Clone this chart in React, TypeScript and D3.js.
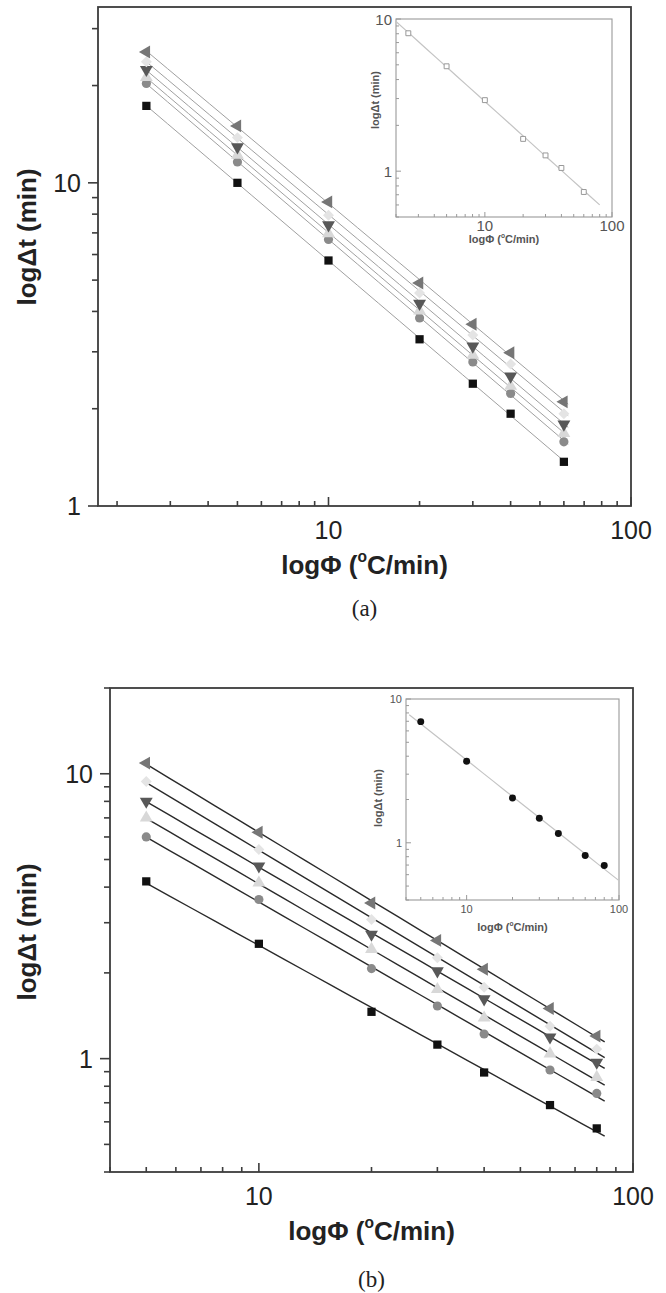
import React, { useEffect, useRef } from "react";
import * as d3 from "d3";

// heating rates (°C/min)
const rateA = [2.5, 5, 10, 20, 30, 40, 60];
const rateB = [5, 10, 20, 30, 40, 60, 80];

// panel (a) series, Δt in min
const squareA = [17.3, 10.0, 5.75, 3.28, 2.39, 1.93, 1.37];
const circleA = [20.3, 11.6, 6.68, 3.82, 2.79, 2.23, 1.58];
const upTriA = [21.2, 12.2, 6.97, 4.02, 2.93, 2.35, 1.68];
const downTriA = [22.4, 12.9, 7.4, 4.23, 3.12, 2.52, 1.79];
const diamondA = [23.7, 13.8, 7.94, 4.56, 3.38, 2.75, 1.93];
const leftTriA = [25.4, 15.0, 8.73, 4.9, 3.65, 2.98, 2.1];

// panel (b) series
const squareB = [4.19, 2.53, 1.46, 1.12, 0.894, 0.687, 0.569];
const circleB = [6.0, 3.62, 2.07, 1.53, 1.22, 0.912, 0.755];
const upTriB = [7.0, 4.14, 2.42, 1.75, 1.39, 1.04, 0.86];
const downTriB = [8.0, 4.74, 2.73, 2.03, 1.62, 1.19, 0.97];
const diamondB = [9.4, 5.42, 3.08, 2.26, 1.78, 1.3, 1.08];
const leftTriB = [10.9, 6.23, 3.52, 2.6, 2.06, 1.5, 1.2];

// insets
const insetA = [8.06, 4.89, 2.93, 1.63, 1.27, 1.05, 0.73];
const insetB = [6.96, 3.69, 2.05, 1.48, 1.16, 0.816, 0.695];

const fitRangeA = [2.5, 62];
const fitRangeB = [5, 84];
const fitRangeInsetA = [2, 80];
const fitRangeInsetB = [4.2, 99];

const markers = [
  { type: d3.symbolSquare, rot: 0, size: 68, fill: "#111" },
  { type: d3.symbolCircle, rot: 0, size: 66, fill: "#8a8a8a" },
  { type: d3.symbolTriangle, rot: 0, size: 72, fill: "#d8d8d8" },
  { type: d3.symbolTriangle, rot: 180, size: 72, fill: "#585858" },
  { type: d3.symbolSquare, rot: 45, size: 60, fill: "#e4e4e4" },
  { type: d3.symbolTriangle, rot: -90, size: 72, fill: "#767676" },
];

const SANS = "Arial, 'Liberation Sans', Helvetica, sans-serif";
const SERIF = "'Times New Roman', 'Liberation Serif', serif";

const isDecade = (t: number) => Math.abs(Math.log10(t) - Math.round(Math.log10(t))) < 1e-9;

function fitLine(xs: number[], ys: number[]) {
  const lx = xs.map(Math.log10), ly = ys.map(Math.log10);
  const mx = d3.mean(lx)!, my = d3.mean(ly)!;
  const b = d3.sum(lx, (v, i) => (v - mx) * (ly[i] - my)) / d3.sum(lx, v => (v - mx) ** 2);
  const a = my - b * mx;
  return (x: number) => Math.pow(10, a + b * Math.log10(x));
}

function drawFrame(g, cfg) {
  const { left, right, top, bottom, xDomain, yDomain } = cfg;
  const x = d3.scaleLog().domain(xDomain).range([left, right]);
  const y = d3.scaleLog().domain(yDomain).range([bottom, top]);

  g.append("rect")
    .attr("x", left).attr("y", top)
    .attr("width", right - left).attr("height", bottom - top)
    .attr("fill", cfg.bg || "none")
    .attr("stroke", cfg.frame).attr("stroke-width", cfg.frameWidth);

  // x ticks (inward)
  x.ticks().filter(t => t >= xDomain[0] && t <= xDomain[1]).forEach(t => {
    const len = isDecade(t) ? cfg.xMajor : cfg.xMinor;
    g.append("line")
      .attr("x1", x(t)).attr("x2", x(t))
      .attr("y1", bottom).attr("y2", bottom - len)
      .attr("stroke", cfg.frame).attr("stroke-width", cfg.tickWidth);
    if (isDecade(t)) {
      g.append("text")
        .attr("x", x(t)).attr("y", bottom + cfg.xLabelGap)
        .attr("text-anchor", "middle").attr("dominant-baseline", "central")
        .attr("font-family", SANS).attr("font-size", cfg.tickFont)
        .attr("fill", cfg.textColor)
        .text(t);
    }
  });

  // y ticks
  y.ticks().filter(t => t >= yDomain[0] && t <= yDomain[1]).forEach(t => {
    const len = isDecade(t) ? cfg.yMajor : cfg.yMinor;
    g.append("line")
      .attr("x1", left).attr("x2", left + cfg.yDir * len)
      .attr("y1", y(t)).attr("y2", y(t))
      .attr("stroke", cfg.frame).attr("stroke-width", cfg.tickWidth);
    if (isDecade(t)) {
      g.append("text")
        .attr("x", left - cfg.yLabelGap).attr("y", y(t))
        .attr("text-anchor", "end").attr("dominant-baseline", "central")
        .attr("font-family", SANS).attr("font-size", cfg.tickFont)
        .attr("fill", cfg.textColor)
        .text(t);
    }
  });

  g.append("text")
    .attr("x", (left + right) / 2).attr("y", bottom + cfg.xTitleGap)
    .attr("text-anchor", "middle").attr("dominant-baseline", "central")
    .attr("font-family", SANS).attr("font-weight", "bold").attr("font-size", cfg.titleFont)
    .attr("fill", cfg.textColor)
    .call(t => {
      t.append("tspan").text("logΦ (");
      t.append("tspan").attr("font-size", cfg.titleFont * 0.6).attr("dy", -cfg.titleFont * 0.35).text("o");
      t.append("tspan").attr("dy", cfg.titleFont * 0.35).text("C/min)");
    });

  g.append("text")
    .attr("transform", `translate(${cfg.yTitleX},${cfg.yTitleY}) rotate(-90)`)
    .attr("text-anchor", "middle").attr("dominant-baseline", "central")
    .attr("font-family", SANS).attr("font-weight", "bold").attr("font-size", cfg.titleFont)
    .attr("fill", cfg.textColor)
    .text("logΔt (min)");

  return { x, y };
}

function drawMain(svg, cfg, rates, series, fitRange) {
  const g = svg.append("g");
  const { x, y } = drawFrame(g, cfg);

  series.forEach(ys => {
    const f = fitLine(rates, ys);
    g.append("path")
      .datum(d3.range(0, 21).map(i => fitRange[0] * Math.pow(fitRange[1] / fitRange[0], i / 20)))
      .attr("fill", "none").attr("stroke", cfg.lineColor).attr("stroke-width", cfg.lineWidth)
      .attr("d", d3.line<number>().x(d => x(d)).y(d => y(f(d))));
  });

  series.forEach((ys, si) => {
    const m = markers[si];
    g.append("g").selectAll("path")
      .data(rates.map((r, i) => [r, ys[i]]))
      .join("path")
      .attr("transform", d => `translate(${x(d[0])},${y(d[1])}) rotate(${m.rot})`)
      .attr("d", d3.symbol().type(m.type).size(m.size)())
      .attr("fill", m.fill);
  });

  svg.append("text")
    .attr("x", (cfg.left + cfg.right) / 2).attr("y", cfg.captionY)
    .attr("text-anchor", "middle").attr("dominant-baseline", "central")
    .attr("font-family", SERIF).attr("font-size", 23).attr("fill", "#222")
    .text(cfg.caption);
}

function drawInset(svg, cfg, rates, ys, fitRange) {
  const g = svg.append("g");
  const { x, y } = drawFrame(g, cfg);
  const f = fitLine(rates, ys);
  g.append("path")
    .datum(d3.range(0, 21).map(i => fitRange[0] * Math.pow(fitRange[1] / fitRange[0], i / 20)))
    .attr("fill", "none").attr("stroke", "#c4c4c4").attr("stroke-width", 1.2)
    .attr("d", d3.line<number>().x(d => x(d)).y(d => y(f(d))));

  const pts = g.append("g").selectAll("path")
    .data(rates.map((r, i) => [r, ys[i]]))
    .join("path")
    .attr("transform", d => `translate(${x(d[0])},${y(d[1])})`);
  if (cfg.open) {
    pts.attr("d", d3.symbol().type(d3.symbolSquare).size(24)())
      .attr("fill", "white").attr("stroke", "#999").attr("stroke-width", 1);
  } else {
    pts.attr("d", d3.symbol().type(d3.symbolCircle).size(38)())
      .attr("fill", "#111");
  }
}

const mainBase = {
  frame: "#3c3c3c", frameWidth: 1.8, tickWidth: 1.6,
  xMajor: 9, xMinor: 5, yMajor: 10, yMinor: 6, yDir: -1,
  xLabelGap: 24, yLabelGap: 17, xTitleGap: 59,
  tickFont: 25, titleFont: 26, textColor: "#222", yTitleX: 27,
};

const insetBase = {
  frame: "#9a9a9a", frameWidth: 1.1, tickWidth: 1, bg: "white",
  xMajor: 5, xMinor: 3, yMajor: 5, yMinor: 3, yDir: 1,
  titleFont: 11, textColor: "#555",
};

export default function App() {
  const ref = useRef<SVGSVGElement>(null);

  useEffect(() => {
    const svg = d3.select(ref.current);
    svg.selectAll("*").remove();

    drawMain(svg, {
      ...mainBase, left: 98, right: 631, top: 7, bottom: 506,
      xDomain: [1.73, 100], yDomain: [1, 35],
      lineColor: "#a0a0a0", lineWidth: 1,
      yTitleY: 237, caption: "(a)", captionY: 608,
    }, rateA, [squareA, circleA, upTriA, downTriA, diamondA, leftTriA], fitRangeA);

    drawMain(svg, {
      ...mainBase, left: 110, right: 633, top: 688, bottom: 1172,
      xDomain: [4, 100], yDomain: [0.4, 20],
      lineColor: "#2a2a2a", lineWidth: 1.4,
      yTitleY: 932, caption: "(b)", captionY: 1279,
    }, rateB, [squareB, circleB, upTriB, downTriB, diamondB, leftTriB], fitRangeB);

    drawInset(svg, {
      ...insetBase, left: 396, right: 612, top: 19, bottom: 217,
      xDomain: [2, 100], yDomain: [0.5, 10],
      tickFont: 15, xLabelGap: 8, yLabelGap: 4, xTitleGap: 22,
      yTitleX: 375, yTitleY: 100, open: true,
    }, rateA, insetA, fitRangeInsetA);

    drawInset(svg, {
      ...insetBase, left: 406, right: 619, top: 699, bottom: 900,
      xDomain: [4, 100], yDomain: [0.4, 10],
      tickFont: 11, xLabelGap: 9, yLabelGap: 4, xTitleGap: 27,
      yTitleX: 378, yTitleY: 798, open: false,
    }, rateB, insetB, fitRangeInsetB);
  }, []);

  return (
    <svg ref={ref} width={666} height={1293}
      style={{ position: "absolute", left: 0, top: 0, background: "white" }} />
  );
}
